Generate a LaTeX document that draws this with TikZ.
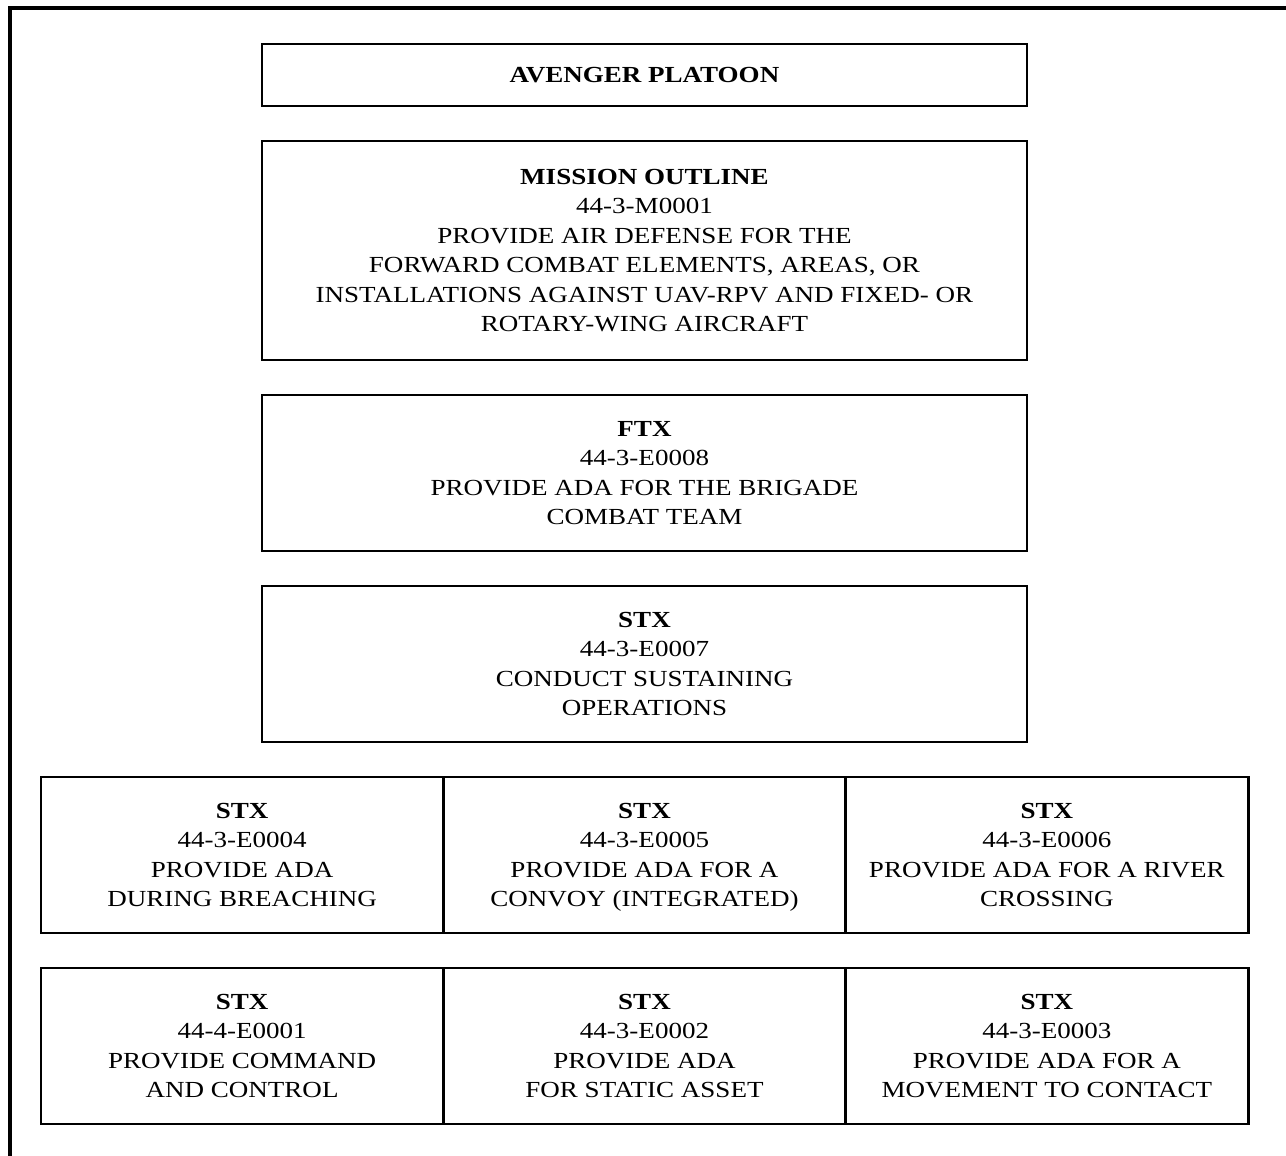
\documentclass[tikz,border=0pt]{standalone}
\usepackage{fontspec}
\setmainfont{Liberation Serif}[FakeStretch=1.175]
\usetikzlibrary{positioning}

\begin{document}
\begin{tikzpicture}[x=0.5pt, y=-0.5pt,
    every node/.style={font=\fontsize{11.5}{14.75}\selectfont, align=center},
    taskbox/.style={draw, line width=1.4pt, inner sep=0pt, outer sep=0pt,
      minimum width=382.5pt, minimum height=78pt, text depth=-2pt},
    cellbox/.style={taskbox, minimum width=201.2pt},
    node distance=17.5pt]
  \useasboundingbox (0,0) rectangle (1286,1156);

  % Outer frame (runs off the page at right and bottom)
  \draw[line width=2pt] (1290,8) -- (10,8) -- (10,1160);

  % Platoon and mission stack
  \node[taskbox, minimum height=31pt] (platoon) at (644.5,75) {\textbf{AVENGER PLATOON}};
  \node[taskbox, minimum height=109.5pt, below=of platoon] (mission)
    {\textbf{MISSION OUTLINE}\\44-3-M0001\\PROVIDE AIR DEFENSE FOR THE\\FORWARD COMBAT ELEMENTS, AREAS, OR\\INSTALLATIONS AGAINST UAV-RPV AND FIXED- OR\\ROTARY-WING AIRCRAFT};
  \node[taskbox, below=of mission] (ftx)
    {\textbf{FTX}\\44-3-E0008\\PROVIDE ADA FOR THE BRIGADE\\COMBAT TEAM};
  \node[taskbox, below=of ftx] (stx)
    {\textbf{STX}\\44-3-E0007\\CONDUCT SUSTAINING\\OPERATIONS};

  % First row of STX lanes
  \node[cellbox, below=of stx] (eFive)
    {\textbf{STX}\\44-3-E0005\\PROVIDE ADA FOR A\\CONVOY (INTEGRATED)};
  \node[cellbox, left=0pt of eFive] (eFour)
    {\textbf{STX}\\44-3-E0004\\PROVIDE ADA\\DURING BREACHING};
  \node[cellbox, right=0pt of eFive] (eSix)
    {\textbf{STX}\\44-3-E0006\\PROVIDE ADA FOR A RIVER\\CROSSING};

  % Second row of STX lanes
  \node[cellbox, below=of eFive] (eTwo)
    {\textbf{STX}\\44-3-E0002\\PROVIDE ADA\\FOR STATIC ASSET};
  \node[cellbox, left=0pt of eTwo] (eOne)
    {\textbf{STX}\\44-4-E0001\\PROVIDE COMMAND\\AND CONTROL};
  \node[cellbox, right=0pt of eTwo] (eThree)
    {\textbf{STX}\\44-3-E0003\\PROVIDE ADA FOR A\\MOVEMENT TO CONTACT};
\end{tikzpicture}
\end{document}
